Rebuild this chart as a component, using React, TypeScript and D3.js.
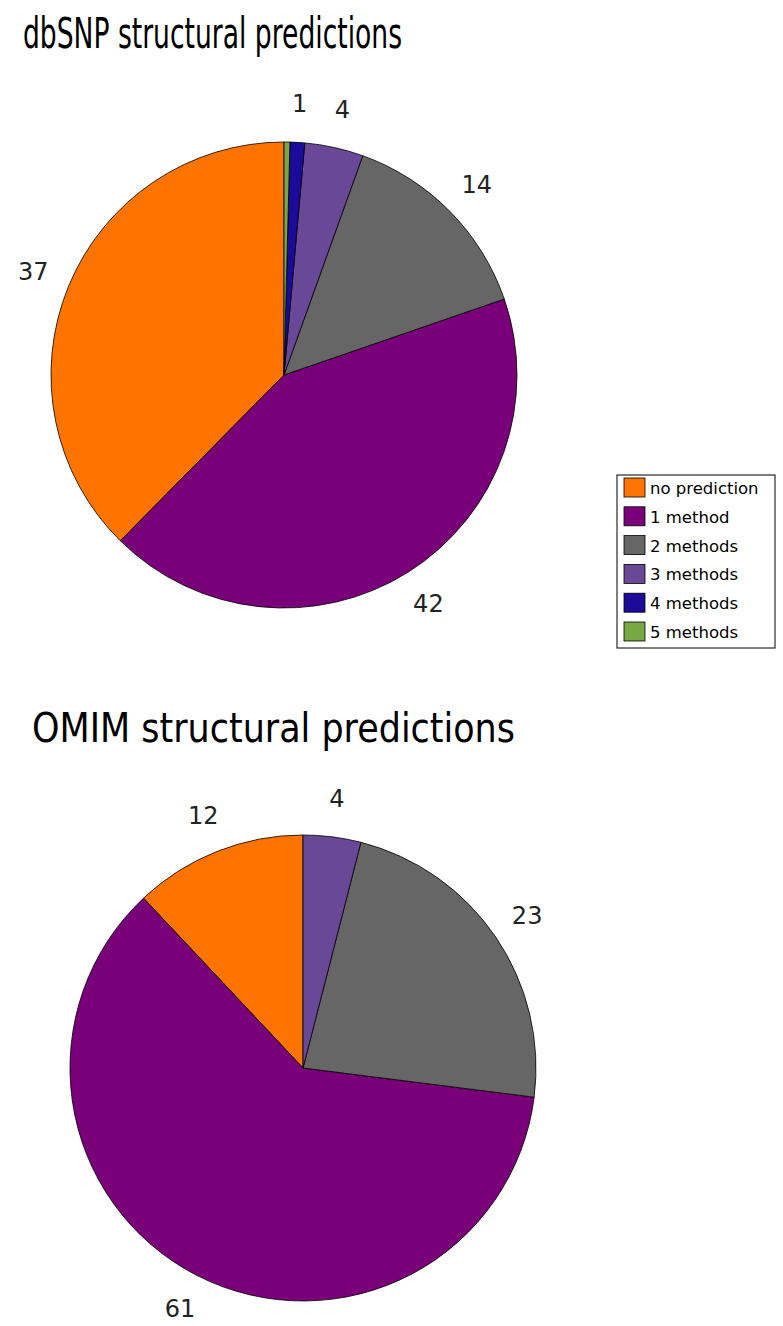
import * as d3 from 'd3';
import React from 'react';

const categories = ['no prediction', '1 method', '2 methods', '3 methods', '4 methods', '5 methods'];
const colors = ['#ff7400', '#7a007a', '#666666', '#6a4898', '#1c0a9a', '#78a844'];
const dbsnpValues = [37, 42, 14, 4, 1, 0.4];
const omimValues = [12, 61, 23, 4, 0, 0];

const width = 783;
const height = 1326;

type PieProps = { values: number[]; cx: number; cy: number; r: number };

function Pie({ values, cx, cy, r }: PieProps) {
  // counter-clockwise from 12 o'clock, like the original
  const pie = d3.pie<number>().sort(null).startAngle(0).endAngle(-2 * Math.PI);
  const arcs = pie(values);
  const arc = d3.arc<d3.PieArcDatum<number>>().innerRadius(0).outerRadius(r);
  const labelArc = d3.arc<d3.PieArcDatum<number>>().innerRadius(r + 38).outerRadius(r + 38);
  return (
    <g transform={`translate(${cx},${cy})`}>
      {arcs.map((a, i) =>
        a.value > 0 ? (
          <path key={i} d={arc(a) || ''} fill={colors[i]} stroke="#000" strokeWidth={0.8} />
        ) : null
      )}
      {arcs.map((a, i) => {
        if (a.value < 1) return null;
        const [x, y] = labelArc.centroid(a);
        return (
          <text key={'l' + i} x={x} y={y} textAnchor="middle" dominantBaseline="central"
            fontFamily="DejaVu Sans" fontSize={24} fill="#222">
            {Math.round(a.value)}
          </text>
        );
      })}
    </g>
  );
}

export default function App() {
  const legendX = 617;
  const legendY = 475;
  const rowStep = 28.8;
  return (
    <div style={{ position: 'absolute', left: 0, top: 0 }}>
      <svg width={width} height={height} style={{ display: 'block', background: '#fff' }}>
        <text x={23} y={48} fontFamily="DejaVu Sans" fontSize={43} textLength={379}
          lengthAdjust="spacingAndGlyphs" fill="#000">dbSNP structural predictions</text>
        <Pie values={dbsnpValues} cx={284} cy={375} r={233} />

        <g>
          <rect x={legendX} y={legendY} width={158} height={173} fill="#fff" stroke="#000" strokeWidth={1} />
          {categories.map((c, i) => (
            <g key={c} transform={`translate(${legendX + 7},${legendY + 3 + i * rowStep})`}>
              <rect width={21} height={19} fill={colors[i]} stroke="#000" strokeWidth={0.8} />
              <text x={26} y={16} fontFamily="DejaVu Sans" fontSize={16.5} fill="#000">{c}</text>
            </g>
          ))}
        </g>

        <text x={32} y={742} fontFamily="DejaVu Sans" fontSize={40} textLength={483}
          lengthAdjust="spacingAndGlyphs" fill="#000">OMIM structural predictions</text>
        <Pie values={omimValues} cx={303} cy={1068} r={233} />
      </svg>
    </div>
  );
}
